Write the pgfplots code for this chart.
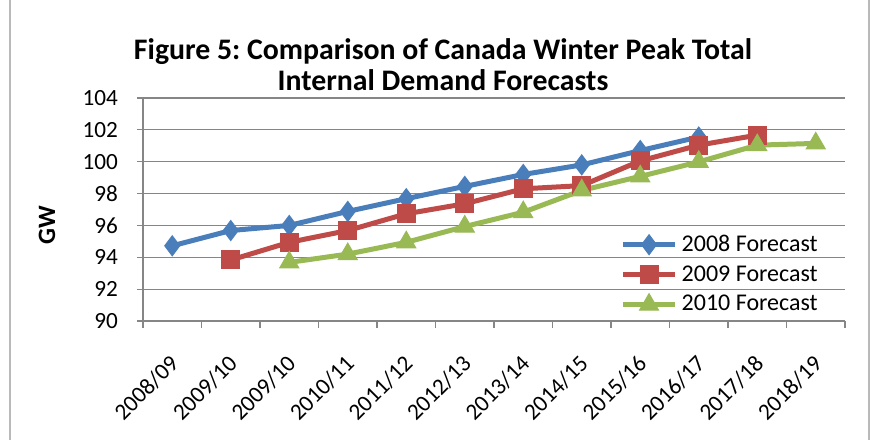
\documentclass[border=0pt]{standalone}
\usepackage{fontspec}
\setmainfont{Carlito}
\usepackage{pgfplots}
\pgfplotsset{compat=1.18}
\definecolor{sblue}{RGB}{74,126,187}
\definecolor{sred}{RGB}{190,75,72}
\definecolor{sgreen}{RGB}{152,185,84}
\definecolor{gridgray}{RGB}{134,134,134}
\frenchspacing

\begin{document}
\begin{tikzpicture}
\useasboundingbox (0,0) rectangle (436pt,220pt);
% chart-area frame (only the side edges show in the reference)
\draw[gray!55, line width=0.6pt] (5pt,0pt) -- (5pt,220pt);
\draw[gray!55, line width=0.6pt] (434.5pt,0pt) -- (434.5pt,220pt);

\node[font=\fontsize{14.9}{15.5}\selectfont\bfseries, align=center] at (221.5pt,187.5pt)
  {Figure 5: Comparison of Canada Winter Peak Total\\Internal Demand Forecasts};
\node[font=\fontsize{12.5}{14}\selectfont\bfseries, rotate=90] at (23.5pt,107.5pt) {GW};

\begin{axis}[
  at={(71.5pt,59.5pt)}, anchor=south west,
  scale only axis, width=351pt, height=111.5pt,
  xmin=-0.5, xmax=11.5, ymin=90, ymax=104,
  ytick={90,92,...,104},
  xtick={0,...,11},
  xticklabels={2008/09,2009/10,2009/10,2010/11,2011/12,2012/13,2013/14,2014/15,2015/16,2016/17,2017/18,2018/19},
  minor xtick={-0.5,0.5,...,11.5},
  major x tick style={draw=none},
  minor tick length=3.5pt,
  major tick length=3pt,
  tick align=outside,
  axis lines*=left,
  axis line style={draw=gridgray, line width=0.6pt},
  every tick/.style={draw=gridgray, line width=0.6pt},
  ymajorgrids, grid style={draw=gridgray, line width=0.6pt},
  tick label style={font=\fontsize{11.6}{14}\selectfont},
  /pgf/number format/assume math mode=true,
  y tick label style={xshift=-6pt},
  x tick label style={rotate=45, anchor=north east, xshift=-7.3pt, yshift=-4.6pt},
  legend style={at={(0.976,-0.006)}, anchor=south east, draw=none, fill=none,
    font=\fontsize{12}{14}\selectfont, row sep=1.6pt, cells={anchor=west}},
  legend image code/.code={
    \draw[mark repeat=2, mark phase=2, #1] plot coordinates {(0cm,0cm)(0.46cm,0cm)(0.92cm,0cm)};},
  every axis plot/.append style={line width=2.5pt},
]
\addplot[color=sblue, mark=diamond*, mark size=5pt, mark options={solid, line width=0.5pt}]
  coordinates {(0,94.72)(1,95.68)(2,96.0)(3,96.88)(4,97.68)(5,98.45)(6,99.2)(7,99.8)(8,100.7)(9,101.55)};
\addlegendentry{2008 Forecast}
\addplot[color=sred, mark=square*, mark size=4.5pt, mark options={solid, line width=0.5pt}]
  coordinates {(1,93.83)(2,94.94)(3,95.68)(4,96.73)(5,97.36)(6,98.3)(7,98.5)(8,100.05)(9,101.04)(10,101.67)};
\addlegendentry{2009 Forecast}
\addplot[color=sgreen, mark=triangle*, mark size=5.5pt, mark options={solid, line width=0.5pt}]
  coordinates {(2,93.68)(3,94.2)(4,94.94)(5,95.93)(6,96.83)(7,98.2)(8,99.08)(9,99.99)(10,101.04)(11,101.15)};
\addlegendentry{2010 Forecast}
\end{axis}
\end{tikzpicture}
\end{document}
